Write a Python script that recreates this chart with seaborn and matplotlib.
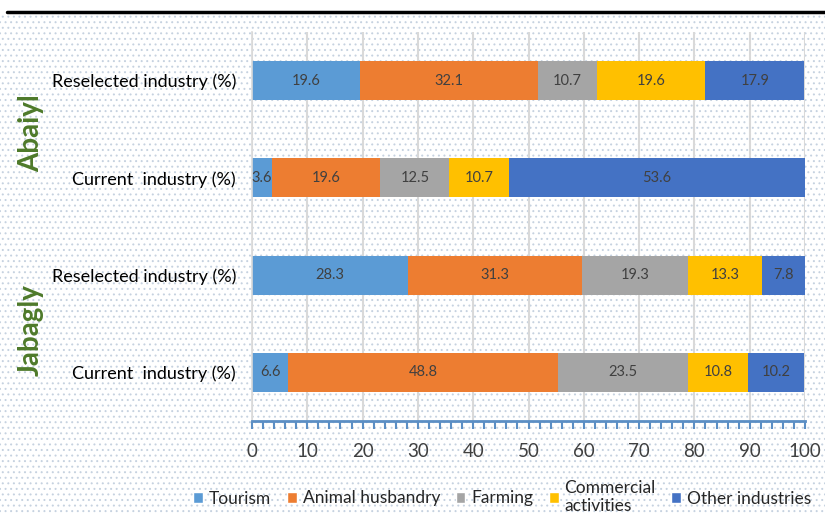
import numpy as np
import pandas as pd
import seaborn as sns
import matplotlib.pyplot as plt
from matplotlib.patches import Rectangle
from matplotlib.lines import Line2D
from matplotlib.ticker import MultipleLocator

sns.set_theme(style="white")
plt.rcParams['font.family'] = ['Lato', 'DejaVu Sans']
plt.rcParams['hatch.linewidth'] = 0.7

# data
row_ids = ["A_res", "A_cur", "J_res", "J_cur"]
row_labels = ["Reselected industry (%)", "Current  industry (%)",
              "Reselected industry (%)", "Current  industry (%)"]
sectors = ["Tourism", "Animal husbandry", "Farming", "Commercial\nactivities", "Other industries"]
tourism = [19.6, 3.6, 28.3, 6.6]
animal = [32.1, 19.6, 31.3, 48.8]
farming = [10.7, 12.5, 19.3, 23.5]
commercial = [19.6, 10.7, 13.3, 10.8]
other = [17.9, 53.6, 7.8, 10.2]
groups = ["Abaiyl", "Jabagly"]

colors = ["#5B9BD5", "#ED7D31", "#A5A5A5", "#FFC000", "#4472C4"]

df = pd.DataFrame({"row": row_ids, "Tourism": tourism, "Animal husbandry": animal,
                   "Farming": farming, "Commercial\nactivities": commercial,
                   "Other industries": other})
cum = df[sectors].cumsum(axis=1)

fig = plt.figure(figsize=(8.25, 5.14), dpi=100)

# dotted background
bg = Rectangle((0, 0), 1, 0.972, transform=fig.transFigure, facecolor="white",
               edgecolor="#C6D2E0", hatch="...", linewidth=0, zorder=-10)
fig.patches.append(bg)
fig.add_artist(Line2D([7 / 825, 1.0], [1 - 12 / 514, 1 - 12 / 514], color="black",
                      lw=2.5, transform=fig.transFigure))

ax = fig.add_axes([252 / 825, 1 - 421 / 514, 553 / 825, 389 / 514])
ax.patch.set_alpha(0)

# stacked bars: draw cumulative totals from the largest down
for i in range(len(sectors) - 1, -1, -1):
    sns.barplot(x=cum[sectors[i]], y=df["row"], orient="h", color=colors[i],
                saturation=1, width=0.4, linewidth=0, ax=ax, zorder=2)

for r in range(len(row_ids)):
    left = 0
    for s in sectors:
        v = df.loc[r, s]
        ax.text(left + v / 2, r, f"{v:.1f}", ha="center", va="center",
                fontsize=10.5, color="#404040", zorder=3)
        left += v

ax.set_xlim(0, 100)
ax.set_ylim(3.5, -0.5)
ax.xaxis.set_major_locator(MultipleLocator(10))
ax.xaxis.set_minor_locator(MultipleLocator(2))
ax.grid(axis="x", which="major", color="#D9D9D9", lw=1.5, zorder=0)
ax.set_axisbelow(True)
ax.set_xlabel("")
ax.set_ylabel("")
ax.set_yticks(range(len(row_ids)))
ax.set_yticklabels(row_labels, fontsize=13, color="black")
for side in ["top", "right"]:
    ax.spines[side].set_visible(False)
ax.spines["left"].set_color("#D9D9D9")
ax.spines["left"].set_linewidth(1.2)
ax.spines["bottom"].set_color("#5B8EC4")
ax.spines["bottom"].set_linewidth(2)
ax.tick_params(axis="x", which="both", direction="out", length=6, width=1.5,
               color="#5B8EC4", labelsize=13.5, labelcolor="#404040", pad=10,
               bottom=True)
ax.tick_params(axis="y", length=0, pad=11.5)

# group labels
fig.text(31 / 825, 1 - 133 / 514, groups[0], rotation=90, ha="center", va="center",
         fontsize=20, fontweight="bold", color="#4E7A2A")
fig.text(31 / 825, 1 - 330 / 514, groups[1], rotation=90, ha="center", va="center",
         fontsize=20, fontweight="bold", color="#4E7A2A")

handles = [Rectangle((0, 0), 1, 1, facecolor=c) for c in colors]
fig.legend(handles, sectors, loc="center", bbox_to_anchor=(0.609, 1 - 497 / 514),
           ncol=5, frameon=False, fontsize=12.5, handlelength=0.55, handleheight=0.55,
           handletextpad=0.35, columnspacing=0.9, labelspacing=0)

fig.savefig("out.png", dpi=100)
